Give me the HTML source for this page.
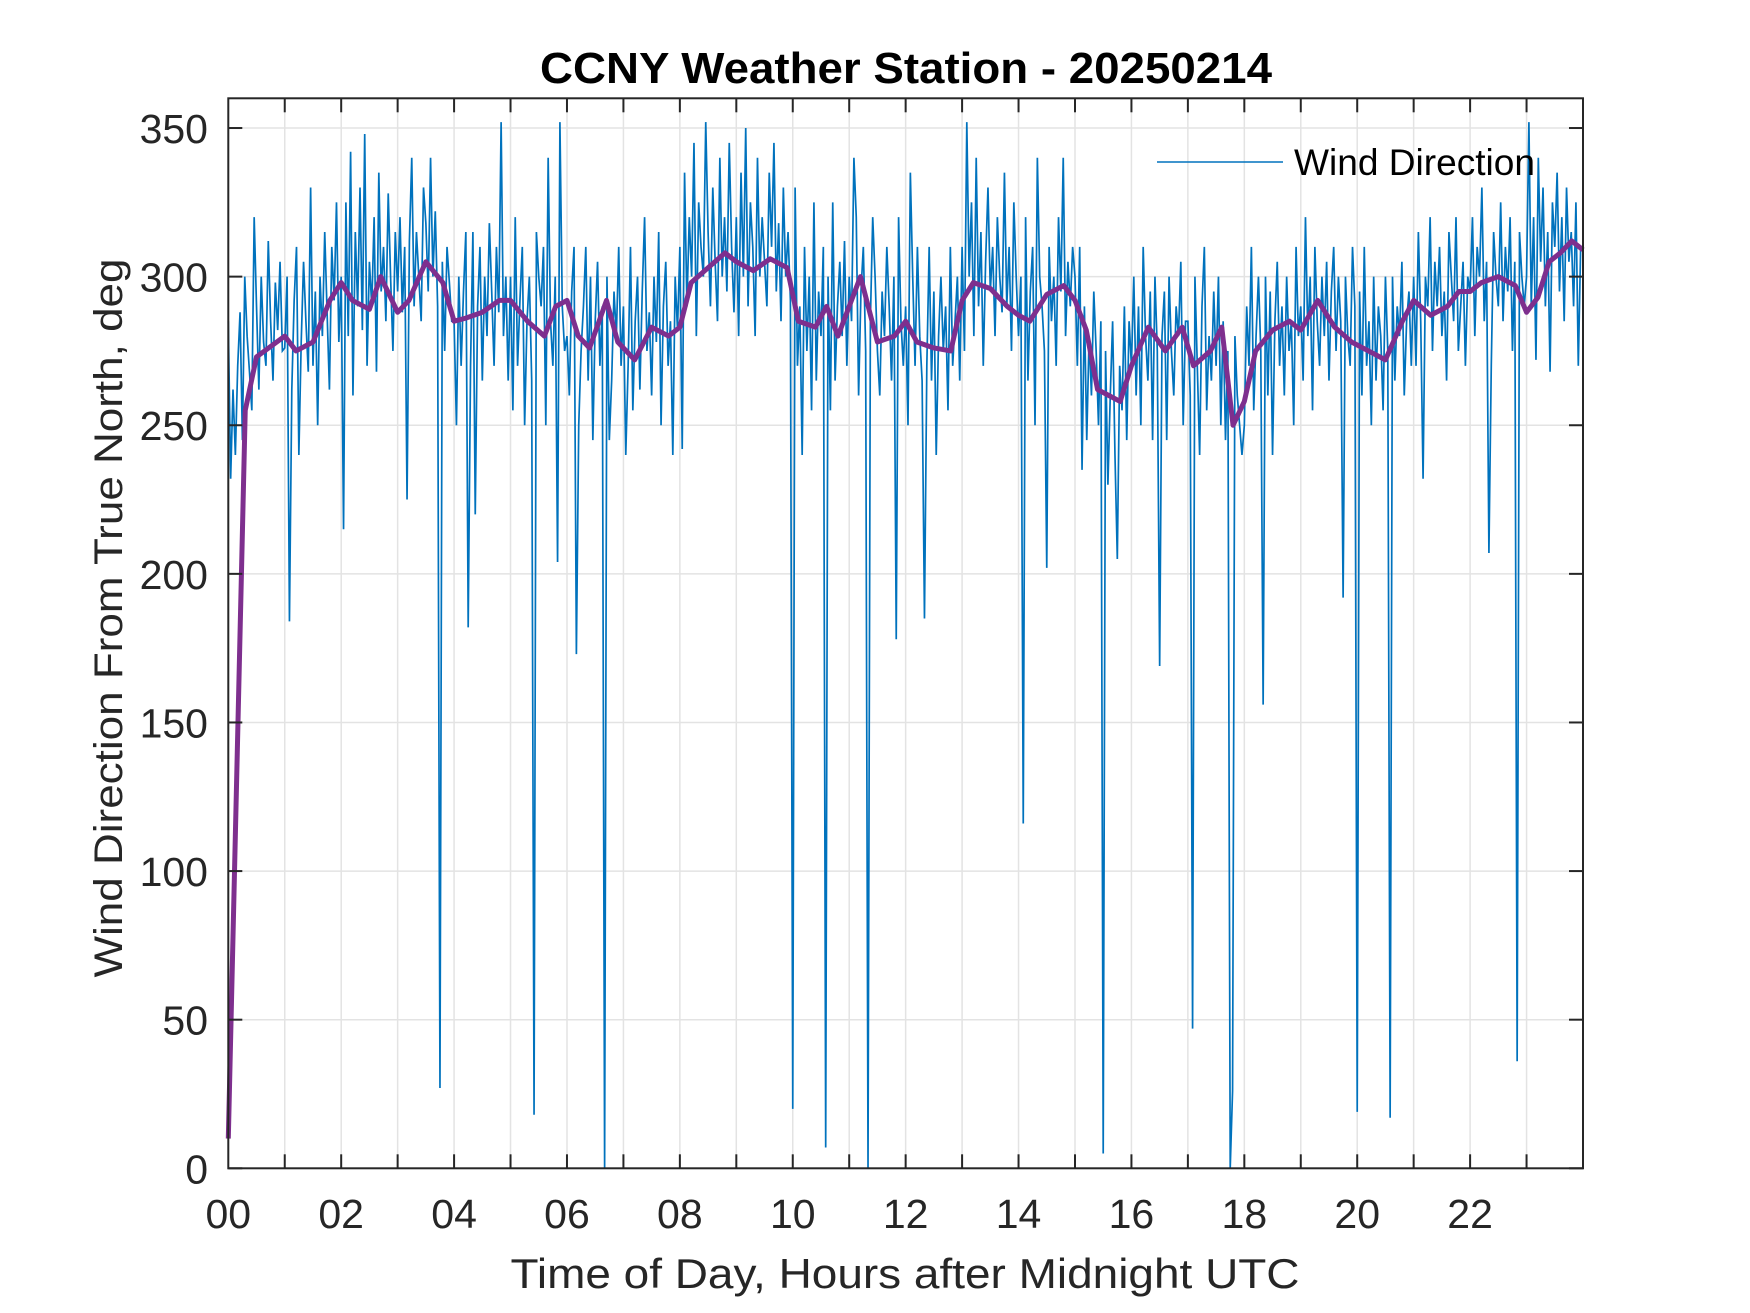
<!DOCTYPE html>
<html><head><meta charset="utf-8"><style>
html,body{margin:0;padding:0;background:#fff;}
svg{display:block;font-family:"Liberation Sans",Arial,sans-serif;}
</style></head><body>
<svg id="chart" width="1750" height="1313" viewBox="0 0 1750 1313" xmlns="http://www.w3.org/2000/svg">
<rect width="1750" height="1313" fill="#fff"/>
<g id="grid"></g>
<g id="series"></g>
<g id="axes"></g>
<text x="906" y="83" text-anchor="middle" font-size="44" font-weight="bold" textLength="732" lengthAdjust="spacingAndGlyphs" fill="#000">CCNY Weather Station - 20250214</text>
<text x="905" y="1288" text-anchor="middle" font-size="42" textLength="789" lengthAdjust="spacingAndGlyphs" fill="#262626">Time of Day, Hours after Midnight UTC</text>
<text transform="translate(122,618) rotate(-90)" text-anchor="middle" font-size="40" textLength="719" lengthAdjust="spacingAndGlyphs" fill="#262626">Wind Direction From True North, deg</text>
<g>
<line x1="1157" y1="162" x2="1283" y2="162" stroke="#0072bd" stroke-width="1.5"/>
<text x="1294" y="175" font-size="37" textLength="241" lengthAdjust="spacingAndGlyphs" fill="#000">Wind Direction</text>
</g>
</svg>
<script>
const xTickLabels = ["00","02","04","06","08","10","12","14","16","18","20","22"];
const xTickHours = [0,2,4,6,8,10,12,14,16,18,20,22];
const yTicks = [0,50,100,150,200,250,300,350];
const windStepMinutes = 2.5;
const windDirection = [
285,232,262,240,270,288,245,300,280,268,255,320,290,262,300,278,270,312,285,265,298,282,305,275,
276,300,184,262,292,310,240,278,305,285,268,330,270,295,250,300,280,315,288,262,310,292,325,278,
300,215,325,280,342,260,315,290,330,282,348,270,305,290,320,268,335,295,310,285,328,300,275,315,
295,320,288,310,225,312,340,290,315,300,285,330,318,295,340,300,322,290,27,305,275,310,298,285,
285,250,300,270,295,315,182,270,315,220,290,310,265,300,280,318,295,270,310,288,352,280,300,265,
300,255,320,270,292,310,250,285,300,265,18,315,300,290,310,250,340,285,270,300,204,352,290,275,
280,260,295,310,173,250,275,290,310,265,300,245,285,305,270,290,0,300,245,265,295,280,310,270,
290,240,270,310,255,285,300,262,295,320,275,288,260,300,278,315,250,290,305,270,285,240,300,282,
310,242,335,290,320,300,345,280,325,310,300,352,315,290,330,305,285,340,300,320,295,345,310,288,
320,280,335,300,350,290,325,310,280,340,300,320,305,290,335,310,345,295,318,285,330,300,315,292,
20,330,270,290,240,310,275,300,255,325,265,295,280,310,7,300,255,325,265,290,305,280,312,270,
300,285,340,320,260,295,310,275,0,285,320,300,275,260,295,280,310,290,265,300,178,320,285,270,
290,250,335,300,270,310,280,265,185,270,310,265,295,240,280,300,275,290,255,310,270,285,300,265,
310,275,352,300,325,280,340,290,315,270,305,330,295,310,280,320,300,288,335,290,310,275,325,300,
280,300,116,320,265,295,310,250,340,300,290,275,202,310,285,300,270,320,295,340,280,305,290,310,
300,270,310,235,290,245,280,260,295,275,250,285,5,275,230,260,285,240,205,270,255,290,245,285,
270,300,260,290,250,310,280,265,295,245,300,275,169,280,295,245,300,275,260,290,280,305,250,285,
285,260,47,300,270,240,290,310,255,280,265,295,270,300,250,285,245,275,0,26,280,260,250,240,
250,290,270,310,255,280,300,275,156,300,260,295,240,285,305,270,290,260,300,275,285,250,310,280,
290,265,320,280,300,255,310,285,270,300,280,305,265,295,310,275,300,285,192,300,280,270,310,290,
19,295,260,310,270,285,250,300,265,290,280,255,300,275,17,300,265,290,280,305,260,285,295,270,
300,270,315,285,232,300,290,320,275,305,290,310,280,295,265,315,300,285,320,275,290,305,270,300,
295,320,280,310,300,330,285,305,207,270,315,300,290,325,285,310,295,320,275,305,36,315,300,290,
300,352,290,320,272,340,305,330,290,315,268,325,310,335,295,320,285,330,305,315,290,325,270,310
];
const meanHours = [0,0.3,0.5,1.0,1.2,1.5,1.8,2.0,2.2,2.5,2.7,3.0,3.2,3.5,3.8,4.0,4.2,4.5,4.8,5.0,5.3,5.6,5.8,6.0,6.2,6.4,6.7,6.9,7.2,7.5,7.8,8.0,8.2,8.5,8.8,9.0,9.3,9.6,9.9,10.1,10.4,10.6,10.8,11.0,11.2,11.5,11.8,12.0,12.2,12.5,12.8,13.0,13.2,13.5,13.8,14.0,14.2,14.5,14.8,15.0,15.2,15.4,15.6,15.8,16.0,16.3,16.6,16.9,17.1,17.4,17.6,17.8,18.0,18.2,18.5,18.8,19.0,19.3,19.6,19.9,20.2,20.5,20.8,21.0,21.3,21.6,21.8,22.0,22.2,22.5,22.8,23.0,23.2,23.4,23.6,23.8,24.0];
const meanDirection = [10,255,273,280,275,278,292,298,292,289,300,288,292,305,298,285,286,288,292,292,285,280,290,292,280,276,292,278,272,283,280,283,298,303,308,305,302,306,303,285,283,290,280,290,300,278,280,285,278,276,275,292,298,296,290,287,285,294,297,292,282,262,260,258,270,283,275,283,270,275,283,250,258,275,282,285,282,292,283,278,275,272,285,292,287,290,295,295,298,300,297,288,293,305,308,312,309];

const L=228.3,R=1583,T=98.3,B=1168.3;
const xMax=24,yMax=360;
function xs(h){return L+(R-L)*h/xMax;}
function ys(v){return B-(B-T)*v/yMax;}
const NS="http://www.w3.org/2000/svg";
function mk(tag,parent){const e=document.createElementNS(NS,tag);parent.appendChild(e);return e;}
const grid=document.getElementById('grid'),axes=document.getElementById('axes'),series=document.getElementById('series');

for(let h=1;h<xMax;h++){
  const g=mk('line',grid);
  
  
  g.setAttribute('x1',xs(h));g.setAttribute('x2',xs(h));g.setAttribute('y1',T);g.setAttribute('y2',B);
  g.setAttribute('stroke','#e3e3e3');g.setAttribute('stroke-width','1.5');
}
yTicks.forEach(v=>{
  if(v===0)return;
  const g=mk('line',grid);
  
  
  g.setAttribute('x1',L);g.setAttribute('x2',R);g.setAttribute('y1',ys(v));g.setAttribute('y2',ys(v));
  g.setAttribute('stroke','#e3e3e3');g.setAttribute('stroke-width','1.5');
});

let d='';
windDirection.forEach((v,i)=>{const h=i*windStepMinutes/60;d+=(i?'L':'M')+xs(h).toFixed(2)+','+ys(v).toFixed(2);});
const wl=mk('path',series);


wl.setAttribute('d',d);wl.setAttribute('fill','none');wl.setAttribute('stroke','#0072bd');wl.setAttribute('stroke-width','1.7');wl.setAttribute('stroke-linejoin','miter');

let d2='';
meanHours.forEach((h,i)=>{d2+=(i?'L':'M')+xs(h).toFixed(2)+','+ys(meanDirection[i]).toFixed(2);});
const ml=mk('path',series);


ml.setAttribute('d',d2);ml.setAttribute('fill','none');ml.setAttribute('stroke','#7e2f8e');ml.setAttribute('stroke-width','5');ml.setAttribute('stroke-linejoin','round');

const box=mk('rect',axes);


box.setAttribute('x',L);box.setAttribute('y',T);box.setAttribute('width',R-L);box.setAttribute('height',B-T);
box.setAttribute('fill','none');box.setAttribute('stroke','#262626');box.setAttribute('stroke-width','2');

for(let h=1;h<xMax;h++){
  [[B,B-14],[T,T+14]].forEach(p=>{
    const t=mk('line',axes);
    
    
    t.setAttribute('x1',xs(h));t.setAttribute('x2',xs(h));t.setAttribute('y1',p[0]);t.setAttribute('y2',p[1]);
    t.setAttribute('stroke','#262626');t.setAttribute('stroke-width','2');
  });
}
xTickLabels.forEach((lab,i)=>{
  const t=mk('text',axes);
  
  
  t.setAttribute('x',xs(xTickHours[i]));t.setAttribute('y',1228);
  t.setAttribute('text-anchor','middle');t.setAttribute('font-size','41');t.setAttribute('fill','#262626');
  t.textContent=lab;
});
yTicks.forEach(v=>{
  [[L,L+14],[R,R-14]].forEach(p=>{
    const t=mk('line',axes);
    
    
    t.setAttribute('x1',p[0]);t.setAttribute('x2',p[1]);t.setAttribute('y1',ys(v));t.setAttribute('y2',ys(v));
    t.setAttribute('stroke','#262626');t.setAttribute('stroke-width','2');
  });
  const t=mk('text',axes);
  
  
  t.setAttribute('x',208);t.setAttribute('y',ys(v)+15);
  t.setAttribute('text-anchor','end');t.setAttribute('font-size','41');t.setAttribute('fill','#262626');
  t.textContent=String(v);
});
</script>
</body></html>
